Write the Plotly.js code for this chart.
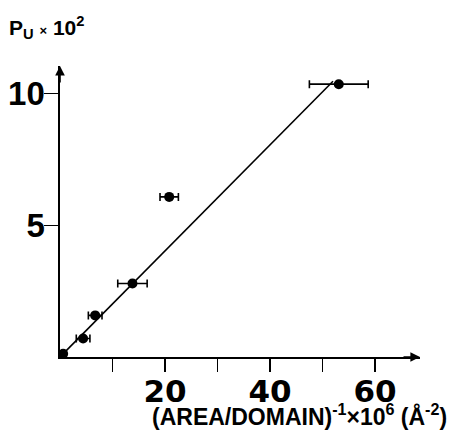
<!DOCTYPE html>
<html>
<head>
<meta charset="utf-8">
<script src="https://cdn.plot.ly/plotly-3.0.1.min.js"></script>
<style>html,body{margin:0;padding:0;background:#fff;}#chart{width:449px;height:436px;}</style>
</head>
<body>
<div id="chart"></div>
<script>
// Data
const invAreaPerDomain = [0.6, 4.4, 6.7, 13.8, 20.8, 53.1];   // (AREA/DOMAIN)^-1 x 10^6
const puTimes100 = [0.12, 0.70, 1.58, 2.79, 6.08, 10.36];       // P_U x 10^2
const xErr = [0.0, 1.3, 1.3, 2.8, 1.75, 5.6];
const fitX = [0, 52];
const fitY = [0, 10.47];
const xTickVals = [10, 20, 30, 40, 50, 60];
const xTickText = ['', '20', '', '40', '', '60'];
const yTickVals = [5, 10];
const yTickText = ['5', '10'];

const FONT = 'Liberation Sans';
const WIDE = 'DejaVu Sans';

const traces = [
  {
    x: fitX, y: fitY, mode: 'lines', type: 'scatter',
    line: {color: '#000', width: 1.6}, hoverinfo: 'skip', cliponaxis: false
  },
  {
    x: invAreaPerDomain, y: puTimes100, mode: 'markers', type: 'scatter',
    marker: {color: '#000', size: 10},
    error_x: {type: 'data', array: xErr, visible: true, color: '#000', thickness: 1.6, width: 4},
    cliponaxis: false
  }
];

const layout = {
  width: 449, height: 436,
  margin: {l: 60, r: 29, t: 66, b: 79},
  paper_bgcolor: '#fff', plot_bgcolor: '#fff',
  showlegend: false,
  font: {family: FONT, color: '#000'},
  xaxis: {
    range: [0, 68.57], showgrid: false, zeroline: false,
    showline: true, linecolor: '#000', linewidth: 1.6,
    ticks: 'outside', ticklen: 13, tickwidth: 1.6, tickcolor: '#000',
    tickvals: xTickVals, ticktext: xTickText,
    ticklabelstandoff: -7,
    tickfont: {family: WIDE, size: 31, weight: 'bold', color: '#000'}
  },
  yaxis: {
    range: [0, 11.05], showgrid: false, zeroline: false,
    showline: true, linecolor: '#000', linewidth: 1.6,
    ticks: 'outside', ticklen: 14, tickwidth: 1.6, tickcolor: '#000',
    tickvals: yTickVals, ticktext: yTickText,
    ticklabelstandoff: -7,
    tickfont: {family: FONT, size: 33, weight: 'bold', color: '#000'}
  },
  annotations: [
    {
      xref: 'x', yref: 'y', x: 0, y: 11.05, ax: 0, ay: 18, axref: 'pixel', ayref: 'pixel',
      text: '', showarrow: true, arrowhead: 2, arrowsize: 1.2, arrowwidth: 1.6, arrowcolor: '#000'
    },
    {
      xref: 'x', yref: 'y', x: 68.57, y: 0, ax: -18, ay: 0,
      text: '', showarrow: true, arrowhead: 2, arrowsize: 1.2, arrowwidth: 1.6, arrowcolor: '#000'
    },
    {
      xref: 'paper', yref: 'paper', x: -0.146, y: 1.19, xanchor: 'left', yanchor: 'top',
      text: 'P<sub>U</sub> <span style="font-size:13px">×</span> 10<sup>2</sup>',
      showarrow: false,
      font: {family: FONT, size: 21, weight: 'bold', color: '#000'}
    },
    {
      xref: 'paper', yref: 'paper', x: 0.25, y: -0.2, xanchor: 'left', yanchor: 'middle',
      text: '(AREA/DOMAIN)<sup>-1</sup>×10<sup>6</sup> (Å<sup>-2</sup>)',
      showarrow: false,
      font: {family: FONT, size: 23, weight: 'bold', color: '#000'}
    }
  ]
};

Plotly.newPlot('chart', traces, layout, {displayModeBar: false, staticPlot: true});
</script>
</body>
</html>
